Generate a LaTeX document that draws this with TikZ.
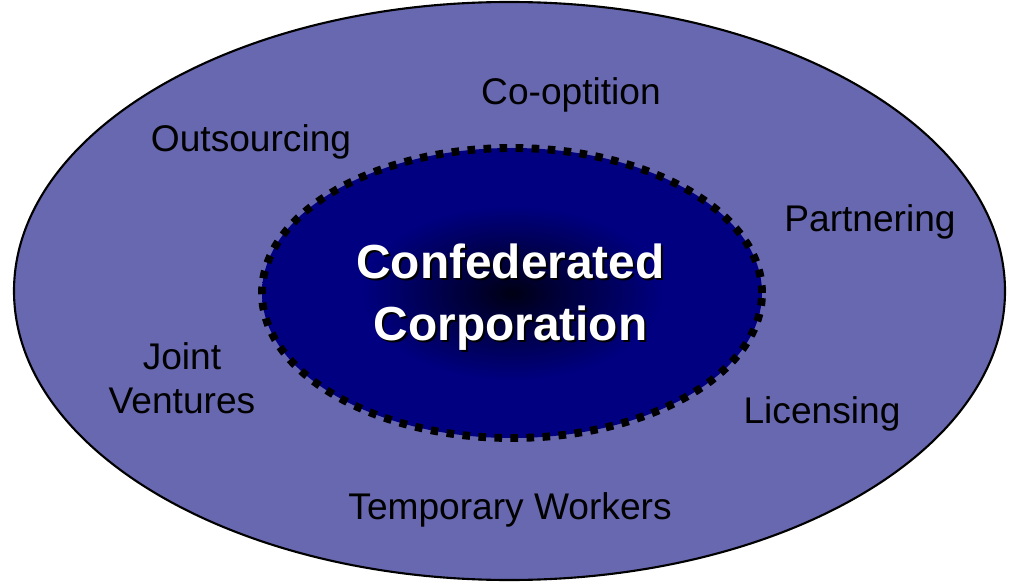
\documentclass[tikz,border=0pt]{standalone}
\usepackage{fontspec}
\setmainfont{Liberation Sans}
\usetikzlibrary{shapes.geometric}
\definecolor{ringblue}{RGB}{104,104,176}
\definecolor{coreblue}{RGB}{0,0,128}
\definecolor{coredark}{RGB}{0,0,20}
\pgfdeclareradialshading{coreglow}{\pgfpoint{0bp}{0bp}}{%
color(0bp)=(coredark); color(4bp)=(coredark!70!coreblue); color(15bp)=(coreblue); color(50bp)=(coreblue)}
\begin{document}
\begin{tikzpicture}[x=0.025cm,y=-0.025cm]

\tikzset{%
every ring/.style={
ellipse,
draw=black,
line width=1.5pt,
fill=ringblue,
inner sep=0pt
},
every core/.style={
ellipse,
draw=black,
line width=5.6pt,
dash pattern=on 5.4pt off 6pt,
shading=coreglow,
inner sep=0pt
},
partner/.style={
anchor=base,
align=center,
font=\fontsize{26.4}{31}\selectfont
},
core text/.style={
anchor=base,
align=center,
font=\fontsize{34}{44}\selectfont\bfseries
},
}

\useasboundingbox (0,0) rectangle (1012,583);

% Outer ring and the confederated core
\node [every ring/.try, minimum width=991*0.025cm, minimum height=578*0.025cm] (ring) at (509.5,291) {};
\node [every core/.try, minimum width=500*0.025cm, minimum height=290*0.025cm] (core) at (512,293) {};

% Partner forms around the core
\foreach \t/\x/\y [count=\i] in {Co-optition/571/105, Outsourcing/251/152, Partnering/870/232, {Joint\\Ventures}/182/413, Licensing/822/423, Temporary Workers/510/519}
\node [partner] (partner-\i) at (\x,\y) {\t};

% Core label with its shadow
\node [core text, text=black] (core-shadow) at (512.5,342) {Confederated\\Corporation};
\node [core text, text=white] (core-label) at (510.5,340) {Confederated\\Corporation};

\end{tikzpicture}
\end{document}
